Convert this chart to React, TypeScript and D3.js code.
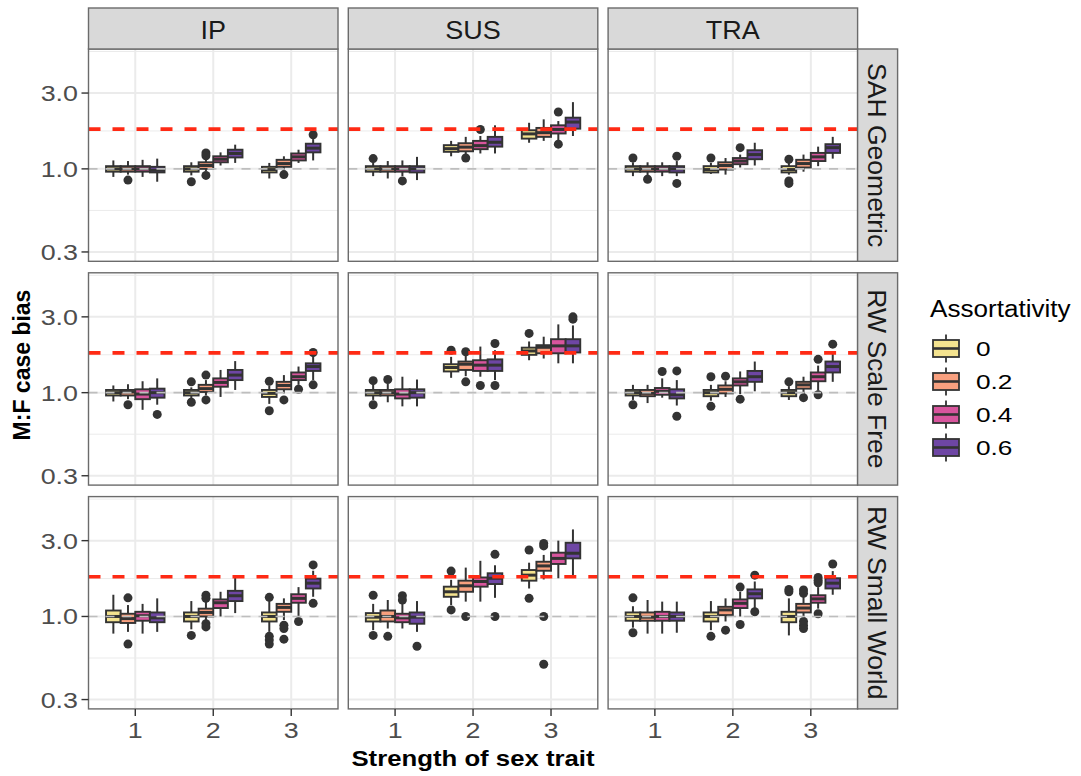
import React from "react";
import * as d3 from "d3";

const W = 1081;
const H = 776;
const FONT = "'Liberation Sans', Arial, Helvetica, sans-serif";

const diseaseModels = ["IP", "SUS", "TRA"];
const networks = ["SAH Geometric", "RW Scale Free", "RW Small World"];
const strengths = [1, 2, 3];
const strengthLabels = ["1", "2", "3"];
const assortativity = ["0", "0.2", "0.4", "0.6"];
const assortColors = ["#F4E38F", "#F8A07F", "#D8559D", "#6E46A4"];
const yTickValues = [0.3, 1.0, 3.0];
const yTickLabels = ["0.3", "1.0", "3.0"];
const yDomain = [0.262, 5.68];
const neutralBias = 1.0;
const expectedBias = 1.78;

// box stats per panel, ordered strength 1..3, assortativity 0..0.6
// [lower whisker, q1, median, q3, upper whisker, outliers]
type Box = [number, number, number, number, number, number[]];

const sahIP: Box[] = [
  [0.89, 0.96, 1.0, 1.04, 1.13, []],
  [0.92, 0.96, 1.0, 1.04, 1.12, [0.85]],
  [0.89, 0.96, 1.0, 1.04, 1.14, []],
  [0.83, 0.95, 0.98, 1.03, 1.16, []],
  [0.91, 0.96, 1.0, 1.04, 1.1, [0.83]],
  [0.97, 1.0, 1.05, 1.1, 1.15, [1.26, 1.21, 0.91]],
  [1.05, 1.1, 1.15, 1.2, 1.27, []],
  [1.09, 1.18, 1.25, 1.32, 1.42, []],
  [0.87, 0.95, 0.99, 1.03, 1.09, []],
  [0.99, 1.03, 1.08, 1.14, 1.2, [0.92]],
  [1.09, 1.13, 1.19, 1.25, 1.32, []],
  [1.13, 1.27, 1.35, 1.44, 1.54, [1.64]],
];
const sahSUS: Box[] = [
  [0.9, 0.96, 1.0, 1.04, 1.1, [1.16]],
  [0.87, 0.96, 1.0, 1.04, 1.12, []],
  [0.9, 0.96, 1.0, 1.04, 1.13, [0.84]],
  [0.85, 0.95, 1.0, 1.04, 1.19, []],
  [1.2, 1.28, 1.34, 1.41, 1.5, []],
  [1.23, 1.29, 1.37, 1.45, 1.59, [1.17]],
  [1.25, 1.33, 1.4, 1.5, 1.61, [1.77]],
  [1.25, 1.38, 1.47, 1.59, 1.88, []],
  [1.46, 1.55, 1.66, 1.75, 1.95, []],
  [1.5, 1.59, 1.69, 1.81, 2.05, []],
  [1.5, 1.67, 1.77, 1.88, 2.0, [2.28, 1.43]],
  [1.61, 1.79, 1.97, 2.1, 2.63, []],
];
const sahTRA: Box[] = [
  [0.9, 0.96, 1.0, 1.04, 1.1, [1.17]],
  [0.9, 0.96, 1.0, 1.04, 1.1, [0.86]],
  [0.9, 0.96, 1.0, 1.04, 1.1, []],
  [0.9, 0.95, 1.0, 1.04, 1.12, [1.2, 0.81]],
  [0.93, 0.95, 0.99, 1.04, 1.09, [1.17]],
  [0.92, 0.99, 1.05, 1.1, 1.17, []],
  [1.02, 1.07, 1.12, 1.17, 1.23, [1.36]],
  [1.05, 1.15, 1.23, 1.31, 1.46, []],
  [0.92, 0.95, 0.99, 1.04, 1.12, [1.15, 0.84, 0.81]],
  [0.96, 1.02, 1.08, 1.14, 1.23, []],
  [1.04, 1.12, 1.19, 1.26, 1.38, []],
  [1.16, 1.26, 1.36, 1.43, 1.59, []],
];
const rwsfIP: Box[] = [
  [0.88, 0.96, 1.0, 1.04, 1.11, []],
  [0.91, 0.96, 1.01, 1.04, 1.13, [0.84]],
  [0.78, 0.91, 0.98, 1.05, 1.18, []],
  [0.84, 0.93, 1.0, 1.06, 1.23, [0.73]],
  [0.9, 0.96, 1.0, 1.04, 1.08, [1.17, 0.87]],
  [0.96, 1.01, 1.06, 1.12, 1.2, [1.29, 0.9]],
  [0.94, 1.09, 1.16, 1.23, 1.39, []],
  [1.04, 1.2, 1.29, 1.39, 1.58, []],
  [0.85, 0.94, 0.99, 1.04, 1.11, [1.18, 0.77]],
  [0.99, 1.05, 1.11, 1.17, 1.29, [0.9]],
  [1.12, 1.2, 1.26, 1.34, 1.46, [1.05]],
  [1.2, 1.37, 1.46, 1.53, 1.7, [1.79, 1.12]],
];
const rwsfSUS: Box[] = [
  [0.9, 0.96, 1.0, 1.04, 1.12, [1.19, 0.84]],
  [0.87, 0.96, 1.0, 1.04, 1.14, [1.21]],
  [0.82, 0.92, 0.98, 1.05, 1.26, []],
  [0.82, 0.93, 1.0, 1.05, 1.21, []],
  [1.24, 1.36, 1.44, 1.51, 1.68, [1.85]],
  [1.27, 1.39, 1.51, 1.57, 1.72, [1.81, 1.17]],
  [1.26, 1.37, 1.49, 1.6, 1.95, [1.11]],
  [1.2, 1.37, 1.49, 1.62, 1.85, [2.04, 1.11]],
  [1.6, 1.73, 1.83, 1.92, 2.1, [2.36]],
  [1.64, 1.77, 1.93, 1.99, 2.25, []],
  [1.53, 1.77, 1.97, 2.17, 2.69, []],
  [1.53, 1.79, 1.97, 2.17, 2.65, [3.0, 2.9]],
];
const rwsfTRA: Box[] = [
  [0.9, 0.96, 1.0, 1.04, 1.12, [0.84]],
  [0.86, 0.95, 0.99, 1.04, 1.12, []],
  [0.93, 0.97, 1.02, 1.07, 1.23, [1.36]],
  [0.83, 0.92, 0.97, 1.05, 1.2, [1.37, 0.71]],
  [0.89, 0.95, 1.0, 1.04, 1.12, [1.26, 0.82]],
  [0.94, 0.99, 1.05, 1.11, 1.18, [1.27]],
  [0.98, 1.11, 1.17, 1.23, 1.36, [0.91]],
  [1.02, 1.17, 1.26, 1.37, 1.57, []],
  [0.9, 0.95, 1.0, 1.04, 1.1, [1.17]],
  [0.97, 1.06, 1.12, 1.17, 1.26, [0.93]],
  [1.03, 1.18, 1.26, 1.34, 1.48, [1.62, 0.97]],
  [1.17, 1.34, 1.46, 1.57, 1.79, [2.02]],
];
const rwswIP: Box[] = [
  [0.78, 0.92, 1.0, 1.09, 1.37, []],
  [0.8, 0.91, 0.97, 1.04, 1.18, [1.31, 0.67]],
  [0.78, 0.94, 1.01, 1.07, 1.2, []],
  [0.8, 0.92, 0.98, 1.06, 1.3, []],
  [0.83, 0.93, 1.0, 1.06, 1.25, [0.76]],
  [0.93, 1.0, 1.06, 1.12, 1.25, [1.36, 1.3, 0.9, 0.86]],
  [1.0, 1.13, 1.22, 1.28, 1.43, []],
  [1.05, 1.25, 1.35, 1.45, 1.76, []],
  [0.8, 0.93, 1.0, 1.06, 1.25, [1.32, 0.75, 0.71, 0.67]],
  [0.95, 1.07, 1.14, 1.2, 1.3, [0.88, 0.84, 0.72]],
  [1.0, 1.22, 1.3, 1.38, 1.53, [0.93]],
  [1.33, 1.5, 1.62, 1.73, 1.94, [2.11, 1.21]],
];
const rwswSUS: Box[] = [
  [0.82, 0.93, 0.99, 1.05, 1.2, [1.36, 0.76]],
  [0.84, 0.93, 1.0, 1.09, 1.27, [0.75]],
  [0.84, 0.92, 0.98, 1.04, 1.2, [1.35, 1.27]],
  [0.8, 0.9, 0.99, 1.06, 1.25, [0.65]],
  [1.18, 1.33, 1.43, 1.54, 1.7, [1.93, 1.1]],
  [1.24, 1.43, 1.56, 1.68, 2.03, [1.0]],
  [1.24, 1.54, 1.66, 1.76, 2.24, []],
  [1.31, 1.6, 1.74, 1.87, 2.1, [2.46, 1.0]],
  [1.5, 1.68, 1.82, 1.96, 2.18, [2.62, 1.3]],
  [1.71, 1.94, 2.08, 2.21, 2.44, [2.88, 2.78, 1.0, 0.5]],
  [1.74, 2.14, 2.32, 2.52, 3.0, []],
  [1.8, 2.32, 2.5, 2.91, 3.53, []],
];
const rwswTRA: Box[] = [
  [0.85, 0.94, 1.0, 1.06, 1.16, [1.31, 0.79]],
  [0.78, 0.94, 0.99, 1.06, 1.27, []],
  [0.78, 0.94, 1.0, 1.07, 1.24, []],
  [0.79, 0.94, 1.0, 1.06, 1.24, []],
  [0.82, 0.93, 1.0, 1.06, 1.25, [0.75]],
  [0.93, 1.02, 1.1, 1.15, 1.3, [0.82]],
  [1.0, 1.13, 1.21, 1.28, 1.43, [1.53, 0.89]],
  [1.13, 1.3, 1.39, 1.48, 1.66, [1.82, 1.07]],
  [0.76, 0.92, 1.0, 1.07, 1.3, [1.48, 1.43]],
  [1.0, 1.06, 1.13, 1.2, 1.33, [1.47, 1.4, 0.93, 0.88, 0.84]],
  [1.12, 1.22, 1.29, 1.36, 1.53, [1.76, 1.69, 1.63, 1.04]],
  [1.37, 1.5, 1.62, 1.74, 1.93, [2.14]],
];

const panelData: Box[][][] = [
  [sahIP, sahSUS, sahTRA],
  [rwsfIP, rwsfSUS, rwsfTRA],
  [rwswIP, rwswSUS, rwswTRA],
];

// layout
const L = 88.5;
const PW = 249.5;
const CG = 10.3;
const T = 49;
const PH = 212.3;
const RG = 11.5;
const STRIP_H = 41;
const STRIP_W = 40;
const DODGE = 0.75;

const BORDER = "#6b6b6b";
const GRID = "#EBEBEB";
const DARK = "#333333";

function SText(props: {
  x: number;
  y: number;
  sx?: number;
  rotate?: number;
  anchor?: string;
  size: number;
  weight?: string | number;
  fill?: string;
  children: React.ReactNode;
}) {
  const { x, y, sx = 1, rotate = 0, anchor = "start", size, weight = "normal", fill = "#000" } = props;
  const tr = `translate(${x},${y}) scale(${sx},1)` + (rotate ? ` rotate(${rotate})` : "");
  return (
    <text
      transform={tr}
      textAnchor={anchor as any}
      fontFamily={FONT}
      fontSize={size}
      fontWeight={weight}
      fill={fill}
    >
      {props.children}
    </text>
  );
}

function Panel({ r, c }: { r: number; c: number }) {
  const x0 = L + c * (PW + CG);
  const y0 = T + r * (PH + RG);
  const x = d3.scaleLinear().domain([0.4, 3.6]).range([x0, x0 + PW]);
  const y = d3.scaleLog().domain(yDomain).range([y0 + PH, y0]);
  const logTicks = yTickValues.map((v) => Math.log10(v));
  const step = logTicks[1] - logTicks[0];
  const ext = [logTicks[0] - step, ...logTicks, logTicks[logTicks.length - 1] + step];
  const minor: number[] = [];
  for (let i = 0; i < ext.length - 1; i++) {
    const m = Math.pow(10, (ext[i] + ext[i + 1]) / 2);
    if (m > yDomain[0] && m < yDomain[1]) minor.push(m);
  }
  const boxes = panelData[r][c];
  const bw = DODGE / assortativity.length;
  return (
    <g>
      <rect x={x0} y={y0} width={PW} height={PH} fill="#fff" />
      {minor.map((v, i) => (
        <line key={"mn" + i} x1={x0} x2={x0 + PW} y1={y(v)} y2={y(v)} stroke={GRID} strokeWidth={1} />
      ))}
      {yTickValues.map((v, i) => (
        <line key={"mj" + i} x1={x0} x2={x0 + PW} y1={y(v)} y2={y(v)} stroke={GRID} strokeWidth={2} />
      ))}
      {strengths.map((s, i) => (
        <line key={"xg" + i} x1={x(s)} x2={x(s)} y1={y0} y2={y0 + PH} stroke={GRID} strokeWidth={2} />
      ))}
      {boxes.map((b, k) => {
        const si = Math.floor(k / assortativity.length);
        const ai = k % assortativity.length;
        const cx = strengths[si] + (ai - (assortativity.length - 1) / 2) * bw;
        const xl = x(cx - bw / 2);
        const xr = x(cx + bw / 2);
        const xc = x(cx);
        const [lo, q1, med, q3, hi, outs] = b;
        return (
          <g key={"b" + k}>
            <line x1={xc} x2={xc} y1={y(hi)} y2={y(q3)} stroke={DARK} strokeWidth={2} />
            <line x1={xc} x2={xc} y1={y(q1)} y2={y(lo)} stroke={DARK} strokeWidth={2} />
            <rect
              x={xl}
              y={y(q3)}
              width={xr - xl}
              height={Math.max(0.5, y(q1) - y(q3))}
              fill={assortColors[ai]}
              stroke={DARK}
              strokeWidth={1.9}
            />
            <line x1={xl} x2={xr} y1={y(med)} y2={y(med)} stroke={DARK} strokeWidth={3} />
            {outs.map((o, j) => (
              <circle key={j} cx={xc} cy={y(o)} r={4.5} fill={DARK} />
            ))}
          </g>
        );
      })}
      <line
        x1={x0}
        x2={x0 + PW}
        y1={y(neutralBias)}
        y2={y(neutralBias)}
        stroke="#BEBEBE"
        strokeWidth={1.6}
        strokeDasharray="9 8"
      />
      <line
        x1={x0}
        x2={x0 + PW}
        y1={y(expectedBias)}
        y2={y(expectedBias)}
        stroke="#FF2A14"
        strokeWidth={3.6}
        strokeDasharray="12 12"
      />
      <rect x={x0} y={y0} width={PW} height={PH} fill="none" stroke={BORDER} strokeWidth={1.4} />
      {r === 0 && (
        <g>
          <rect x={x0} y={y0 - STRIP_H} width={PW} height={STRIP_H} fill="#D9D9D9" stroke={BORDER} strokeWidth={1.4} />
          <SText x={x0 + PW / 2} y={y0 - 10} anchor="middle" size={25} sx={1.08} fill="#1A1A1A">
            {diseaseModels[c]}
          </SText>
        </g>
      )}
      {c === diseaseModels.length - 1 && (
        <g>
          <rect x={x0 + PW} y={y0} width={STRIP_W} height={PH} fill="#D9D9D9" stroke={BORDER} strokeWidth={1.4} />
          <SText x={x0 + PW + 10.5} y={y0 + PH / 2} anchor="middle" size={26.5} rotate={90} fill="#1A1A1A">
            {networks[r]}
          </SText>
        </g>
      )}
      {c === 0 &&
        yTickValues.map((v, i) => (
          <g key={"yt" + i}>
            <line x1={x0 - 7} x2={x0} y1={y(v)} y2={y(v)} stroke={DARK} strokeWidth={1.4} />
            <SText x={x0 - 10.5} y={y(v) + 8} anchor="end" size={22} sx={1.22} fill="#4D4D4D">
              {yTickLabels[i]}
            </SText>
          </g>
        ))}
      {r === networks.length - 1 &&
        strengths.map((s, i) => (
          <g key={"xt" + i}>
            <line x1={x(s)} x2={x(s)} y1={y0 + PH} y2={y0 + PH + 7} stroke={DARK} strokeWidth={1.4} />
            <SText x={x(s)} y={y0 + PH + 29} anchor="middle" size={22} sx={1.22} fill="#4D4D4D">
              {strengthLabels[i]}
            </SText>
          </g>
        ))}
    </g>
  );
}

function Legend() {
  const kx = 933;
  const kw = 26;
  const y0 = 348.5;
  const pitch = 33;
  return (
    <g>
      <SText x={930} y={317} size={23.3} sx={1.12} fill="#000">
        Assortativity
      </SText>
      {assortativity.map((a, i) => {
        const cy = y0 + i * pitch;
        return (
          <g key={a}>
            <line x1={kx + kw / 2} x2={kx + kw / 2} y1={cy - 14} y2={cy + 14} stroke={DARK} strokeWidth={1.8} />
            <rect x={kx} y={cy - 8.5} width={kw} height={17} fill={assortColors[i]} stroke={DARK} strokeWidth={1.8} />
            <line x1={kx} x2={kx + kw} y1={cy} y2={cy} stroke={DARK} strokeWidth={2.6} />
            <SText x={976} y={cy + 7.2} size={20.5} sx={1.28} fill="#000">
              {a}
            </SText>
          </g>
        );
      })}
    </g>
  );
}

export default function App() {
  return (
    <svg
      width={W}
      height={H}
      viewBox={`0 0 ${W} ${H}`}
      style={{ position: "absolute", left: 0, top: 0, background: "#fff" }}
    >
      <rect width={W} height={H} fill="#fff" />
      {networks.map((_, r) => diseaseModels.map((__, c) => <Panel key={r + "-" + c} r={r} c={c} />))}
      <SText x={30} y={365} size={23} weight="bold" rotate={-90} anchor="middle" fill="#000">
        M:F case bias
      </SText>
      <SText x={473} y={766} size={23} weight="bold" sx={1.12} anchor="middle" fill="#000">
        Strength of sex trait
      </SText>
      <Legend />
    </svg>
  );
}
